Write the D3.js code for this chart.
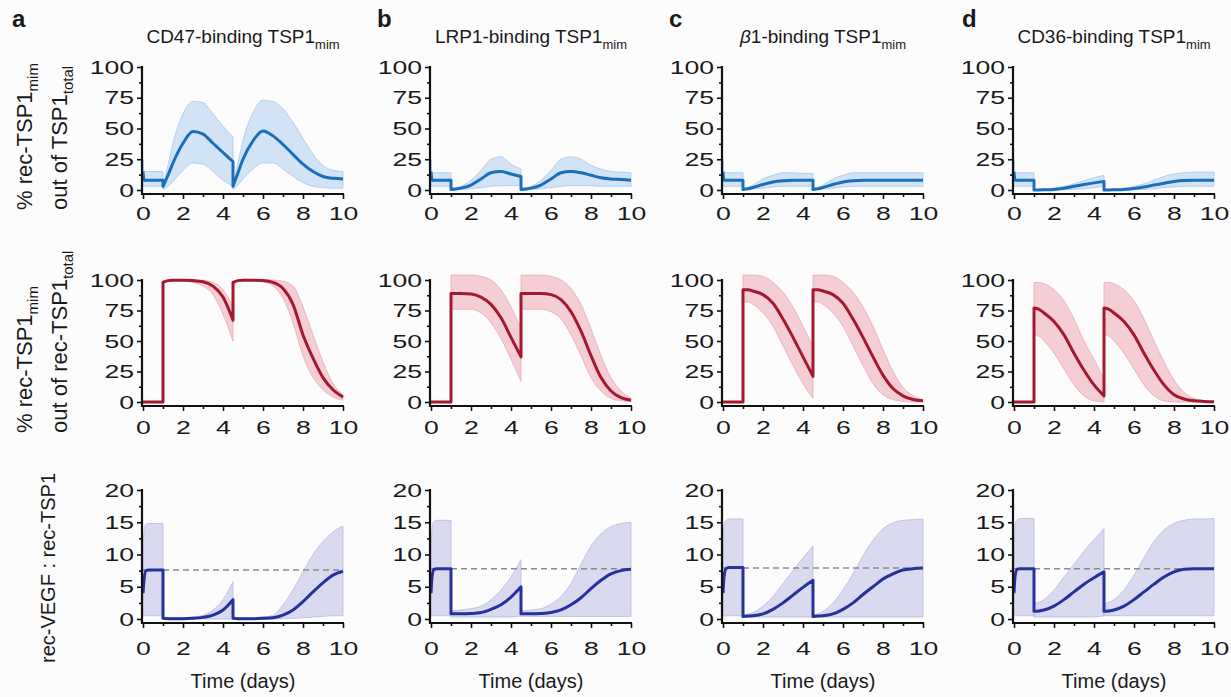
<!DOCTYPE html>
<html>
<head>
<meta charset="utf-8">
<script src="https://cdn.jsdelivr.net/npm/d3@7"></script>
<style>
  body { margin: 0; background: #fcfcfd; }
  text { font-family: "Liberation Sans", Arial, Helvetica, sans-serif; fill: #1a1a1a; }
</style>
</head>
<body>
<svg width="1231" height="697"></svg>
<script>
// time grid: the values at t=1 and t=4.5 appear twice (before / after each dose)
var times = [0, 0.05, 0.15, 0.3, 0.5, 0.75, 1,
  1, 1.25, 1.5, 2, 2.5, 3, 3.5, 4, 4.5,
  4.5, 4.75, 5, 5.5, 6, 6.5, 7, 7.5, 8, 8.5, 9, 9.5, 10];

var panelLetters = ["a", "b", "c", "d"];
var receptors = ["CD47", "LRP1", "β", "CD36"];
var xTicks = [0, 2, 4, 6, 8, 10];
var pctTicks = [0, 25, 50, 75, 100];
var ratioTicks = [0, 5, 10, 15, 20];

// row 1: % rec-TSP1mim out of TSP1total  (panels a..d)
var totMean = [
  [15, 8, 8, 8, 8, 8, 8, 3, 12, 22, 38, 47.5, 45.5, 38, 30.5, 23, 3, 14, 25, 40, 48, 44, 37, 29, 21, 15, 11, 9.5, 9],
  [15, 8, 8, 8, 8, 8, 8, 0.5, 0.8, 1.5, 4, 9, 14, 15, 13, 11, 0.5, 0.8, 1.5, 4, 9, 14, 15, 14, 12, 10, 9, 8.5, 8],
  [15, 8, 8, 8, 8, 8, 8, 0.5, 1, 2, 4.5, 6.5, 7.5, 8, 8, 8, 0.5, 1, 2, 4.5, 6.5, 7.5, 8, 8, 8, 8, 8, 8, 8],
  [15, 8, 8, 8, 8, 8, 8, 0, 0.05, 0.2, 0.5, 1.5, 3, 4.5, 5.8, 7, 0, 0.05, 0.2, 0.5, 1.2, 2.5, 4, 5.5, 7, 7.8, 8, 8, 8]
];
var totHi = [
  [25, 15, 15, 15, 15, 15, 15, 4, 20, 38, 62, 72, 71, 62, 52, 43, 4, 22, 40, 63, 73, 72, 66, 55, 42, 29, 20, 16, 15],
  [25, 14, 14, 14, 14, 14, 14, 1, 2, 3, 8, 16, 25, 27, 21, 17, 1, 2, 3, 8, 16, 25, 27, 25, 20, 17, 15, 14.5, 14],
  [25, 14, 14, 14, 14, 14, 14, 1, 2, 4, 9, 12, 14, 14, 13.5, 13.5, 1, 2, 4, 9, 12, 14, 14, 14, 14, 14, 14, 14, 14],
  [25, 14, 14, 14, 14, 14, 14, 0.5, 0.6, 0.8, 1.5, 3, 5, 7.5, 10, 12, 0.5, 0.6, 0.8, 1.5, 3, 5, 8, 11, 13, 14, 14.5, 14.5, 14.5]
];
var totLo = [
  [3, 3, 3, 3, 3, 3, 3, 0.5, 3, 7, 16, 22, 21, 15, 8, 3, 0.5, 4, 9, 17, 22, 22, 17, 11, 6, 3, 2, 1.5, 1.5],
  [3, 3, 3, 3, 3, 3, 3, 0, 0, 0.3, 1, 2, 3, 3.5, 3.5, 3.5, 0, 0, 0.3, 1, 2, 3, 3.5, 3.5, 3.5, 3, 3, 3, 3],
  [3, 3, 3, 3, 3, 3, 3, 0, 0.3, 0.8, 1.5, 2.5, 3, 3, 3, 3, 0, 0.3, 0.8, 1.5, 2.5, 3, 3, 3, 3, 3, 3, 3, 3],
  [3, 3, 3, 3, 3, 3, 3, 0, 0, 0, 0, 0.2, 0.5, 1, 2, 3, 0, 0, 0, 0, 0.2, 0.5, 1, 2, 2.5, 3, 3, 3, 3]
];

// row 2: % rec-TSP1mim out of rec-TSP1total
var recMean = [
  [0, 0, 0, 0, 0, 0, 0, 98, 99.5, 99.8, 99.8, 99.5, 98.5, 95, 86, 67, 98, 99.5, 99.8, 99.8, 99.5, 98, 93, 80, 55, 36, 20, 10, 4],
  [0, 0, 0, 0, 0, 0, 0, 89, 89, 89, 88.5, 86, 80, 69, 53, 37, 89, 89, 89, 89, 88, 84, 74, 58, 38, 20, 9, 3.5, 1.5],
  [0, 0, 0, 0, 0, 0, 0, 92, 92, 91, 88, 81, 68, 53, 37, 21, 92, 92, 91, 88, 81, 68, 53, 37, 22, 11, 5, 2, 1],
  [0, 0, 0, 0, 0, 0, 0, 77, 76, 73, 66, 55, 40, 26, 14, 5, 77, 76, 73, 66, 55, 40, 26, 14, 6, 2.5, 1, 0.5, 0.2]
];
var recHi = [
  [0, 0, 0, 0, 0, 0, 0, 99.5, 100, 100, 100, 100, 99.8, 98, 92, 78, 99, 100, 100, 100, 100, 100, 99, 95, 78, 55, 33, 15, 6],
  [0, 0, 0, 0, 0, 0, 0, 104, 104, 104, 104, 103, 100, 92, 78, 60, 104, 104, 104, 104, 103, 100, 93, 80, 60, 38, 20, 9, 3],
  [0, 0, 0, 0, 0, 0, 0, 104, 104, 104, 103, 98, 90, 78, 62, 45, 104, 104, 104, 103, 98, 90, 78, 62, 43, 25, 12, 5, 2],
  [0, 0, 0, 0, 0, 0, 0, 98, 98, 97, 92, 83, 68, 50, 35, 18, 98, 98, 97, 92, 83, 68, 50, 33, 18, 8, 3, 1, 0.5]
];
var recLo = [
  [0, 0, 0, 0, 0, 0, 0, 97, 99, 99.5, 99.3, 98, 95, 88, 72, 50, 95, 99, 99.5, 99.3, 98.5, 95, 85, 65, 38, 20, 10, 4, 1.5],
  [0, 0, 0, 0, 0, 0, 0, 76, 76, 76, 76, 73, 65, 52, 35, 17, 76, 76, 76, 76, 74, 68, 55, 38, 20, 9, 3, 1, 0.3],
  [0, 0, 0, 0, 0, 0, 0, 82, 82, 80, 73, 62, 46, 30, 15, 3, 82, 82, 80, 73, 62, 46, 30, 15, 6, 2, 0.5, 0, 0],
  [0, 0, 0, 0, 0, 0, 0, 55, 54, 50, 40, 27, 14, 5, 1, 0, 55, 54, 50, 40, 27, 14, 5, 1, 0, 0, 0, 0, 0]
];

// row 3: rec-VEGF : rec-TSP1
var ratioMean = [
  [4, 6, 7.5, 7.6, 7.6, 7.6, 7.6, 0.1, 0.05, 0.05, 0.05, 0.1, 0.25, 0.6, 1.4, 3, 0.1, 0.05, 0.05, 0.05, 0.1, 0.2, 0.6, 1.4, 2.7, 4.2, 5.6, 6.8, 7.4],
  [4, 6.5, 7.7, 7.8, 7.8, 7.8, 7.8, 0.8, 0.8, 0.8, 0.85, 1, 1.5, 2.2, 3.4, 5, 0.8, 0.8, 0.8, 0.85, 1, 1.4, 2.2, 3.3, 4.7, 6, 7, 7.5, 7.7],
  [4, 6.5, 7.8, 8, 8, 8, 8, 0.4, 0.45, 0.5, 0.8, 1.5, 2.5, 3.7, 4.9, 6, 0.4, 0.45, 0.5, 0.8, 1.5, 2.5, 3.8, 5, 6.2, 7, 7.6, 7.8, 7.9],
  [4, 6.5, 7.7, 7.8, 7.8, 7.8, 7.8, 1.2, 1.25, 1.4, 2, 3, 4.2, 5.4, 6.4, 7.3, 1.2, 1.25, 1.4, 2, 3, 4.2, 5.4, 6.5, 7.3, 7.7, 7.8, 7.8, 7.8]
];
var ratioHi = [
  [8, 13.5, 14.7, 14.8, 14.8, 14.8, 14.8, 0.2, 0.2, 0.2, 0.2, 0.3, 0.6, 1.4, 3, 5.8, 0.2, 0.2, 0.2, 0.2, 0.3, 0.6, 2.2, 4.5, 7.3, 10, 12, 13.5, 14.4],
  [8, 14, 15.1, 15.3, 15.3, 15.3, 15.3, 1.3, 1.3, 1.4, 1.6, 2, 3, 4.5, 6.5, 9.2, 1.3, 1.3, 1.4, 1.6, 2.3, 3.5, 5.5, 8.5, 11.3, 13.2, 14.3, 14.8, 15],
  [8, 14.5, 15.3, 15.5, 15.5, 15.5, 15.5, 0.6, 0.8, 1, 2, 3.5, 5.5, 7.5, 9.5, 11.3, 0.6, 0.8, 1.2, 2.5, 4.5, 7, 9.8, 12.2, 14, 14.9, 15.3, 15.4, 15.5],
  [8, 14.5, 15.4, 15.6, 15.6, 15.6, 15.6, 2.4, 2.6, 3, 4.5, 6.5, 8.5, 10.5, 12.3, 14, 2.4, 2.6, 3, 4.5, 6.8, 9.5, 12, 13.8, 14.8, 15.3, 15.5, 15.5, 15.6]
];
var ratioLo = [
  [0.5, 0.5, 0.5, 0.5, 0.5, 0.5, 0.5, 0, 0, 0, 0, 0, 0, 0, 0, 0, 0, 0, 0, 0, 0, 0, 0.05, 0.1, 0.2, 0.3, 0.4, 0.5, 0.5],
  [0.5, 0.5, 0.5, 0.5, 0.5, 0.5, 0.5, 0.3, 0.3, 0.3, 0.3, 0.3, 0.3, 0.3, 0.3, 0.5, 0.4, 0.4, 0.4, 0.4, 0.4, 0.4, 0.4, 0.4, 0.4, 0.4, 0.4, 0.4, 0.4],
  [0.5, 0.5, 0.5, 0.5, 0.5, 0.5, 0.5, 0.3, 0.3, 0.3, 0.3, 0.3, 0.3, 0.3, 0.3, 0.3, 0.3, 0.3, 0.3, 0.3, 0.3, 0.3, 0.3, 0.3, 0.3, 0.3, 0.3, 0.3, 0.3],
  [0.5, 0.5, 0.5, 0.5, 0.5, 0.5, 0.5, 0.3, 0.3, 0.3, 0.3, 0.3, 0.3, 0.3, 0.3, 0.5, 0.5, 0.5, 0.5, 0.5, 0.5, 0.5, 0.5, 0.5, 0.5, 0.5, 0.5, 0.5, 0.5]
];
// untreated steady-state ratio (grey dashed line)
var ratioRef = [7.6, 7.8, 7.9, 7.8];

var svg = d3.select("svg");
var panelLeft = [143, 431, 723, 1014];
var letterX = [12, 377, 669, 962];
var panelW = 200;

var rowDefs = [
  { mean: totMean, lo: totLo, hi: totHi, ticks: pctTicks, max: 100, top: 67, zero: 190, gap: 8,
    line: "#1a6fb8", band: "#cde0f4", edge: "#a8c8ec" },
  { mean: recMean, lo: recLo, hi: recHi, ticks: pctTicks, max: 100, top: 280, zero: 402, gap: 10,
    line: "#a3192f", band: "#f4c8d0", edge: "#eaa9b6" },
  { mean: ratioMean, lo: ratioLo, hi: ratioHi, ticks: ratioTicks, max: 20, top: 490, zero: 619, gap: 14,
    line: "#26319a", band: "#d5d5ed", edge: "#babae0", ref: ratioRef }
];

function midpoints(arr) {
  return d3.pairs(arr).map(function (p) { return (p[0] + p[1]) / 2; });
}

function styleTickText(sel, dx) {
  sel.selectAll("text")
    .style("font-size", "19px")
    .attr("fill", "#1a1a1a")
    .attr("transform", "scale(1.4,1)");
  if (dx !== undefined) sel.selectAll("text").attr("x", dx / 1.4);
}

rowDefs.forEach(function (row, r) {
  panelLeft.forEach(function (left, c) {
    var x = d3.scaleLinear().domain([0, 10]).range([left, left + panelW]);
    var y = d3.scaleLinear().domain([0, row.max]).range([row.zero, row.top]);
    var g = svg.append("g");

    var pts = times.map(function (t, i) {
      return { t: t, m: row.mean[c][i], lo: row.lo[c][i], hi: row.hi[c][i] };
    });
    // split at the dosing jumps
    var segs = [];
    pts.forEach(function (p, i) {
      if (i === 0 || p.t === pts[i - 1].t) segs.push([]);
      segs[segs.length - 1].push(p);
    });

    var area = d3.area().curve(d3.curveMonotoneX)
      .x(function (d) { return x(d.t); })
      .y0(function (d) { return y(d.lo); })
      .y1(function (d) { return y(d.hi); });
    var line = d3.line().curve(d3.curveMonotoneX)
      .x(function (d) { return x(d.t); })
      .y(function (d) { return y(d.m); });

    g.selectAll(".band").data(segs).enter().append("path")
      .attr("class", "band")
      .attr("d", area)
      .attr("fill", row.band)
      .attr("fill-opacity", 0.9)
      .attr("stroke", row.edge)
      .attr("stroke-width", 0.8);

    if (row.ref) {
      g.append("line")
        .attr("x1", x(0)).attr("x2", x(10))
        .attr("y1", y(row.ref[c])).attr("y2", y(row.ref[c]))
        .attr("stroke", "#8a8a8a")
        .attr("stroke-width", 1.6)
        .attr("stroke-dasharray", "6,4");
    }

    // mean curve, segments joined by vertical jumps
    var dStr = segs.map(function (s, k) {
      var p = line(s);
      return k ? "L" + p.slice(1) : p;
    }).join("");
    g.append("path")
      .attr("d", dStr)
      .attr("fill", "none")
      .attr("stroke", row.line)
      .attr("stroke-width", 3)
      .attr("stroke-linejoin", "round");

    // axes
    var axisY = row.zero + 4;
    var axisX = x(0) - 1;

    var yMinor = g.append("g").attr("transform", "translate(" + axisX + ",0)")
      .call(d3.axisLeft(y).tickValues(midpoints(row.ticks)).tickSize(3).tickSizeOuter(0).tickFormat(""));
    var yMajor = g.append("g").attr("transform", "translate(" + axisX + ",0)")
      .call(d3.axisLeft(y).tickValues(row.ticks).tickSize(5).tickSizeOuter(0).tickPadding(4));
    styleTickText(yMajor, -8);

    var xMinor = g.append("g").attr("transform", "translate(0," + axisY + ")")
      .call(d3.axisBottom(x).tickValues(midpoints(xTicks)).tickSize(3).tickSizeOuter(0).tickFormat(""));
    var xMajor = g.append("g").attr("transform", "translate(0," + axisY + ")")
      .call(d3.axisBottom(x).tickValues(xTicks).tickSize(5).tickSizeOuter(0).tickPadding(row.gap));
    styleTickText(xMajor);

    [yMinor, yMajor, xMinor, xMajor].forEach(function (a) {
      a.select(".domain").remove();
      a.selectAll("line").attr("stroke", "#111").attr("stroke-width", 1.6);
    });

    g.append("line")
      .attr("x1", axisX).attr("x2", axisX)
      .attr("y1", y(row.max) - 1).attr("y2", axisY + 1)
      .attr("stroke", "#111").attr("stroke-width", 2.2);
    g.append("line")
      .attr("x1", axisX - 1).attr("x2", x(10) + 1)
      .attr("y1", axisY).attr("y2", axisY)
      .attr("stroke", "#111").attr("stroke-width", 2.2);

    if (r === 0) {
      svg.append("text")
        .attr("x", letterX[c]).attr("y", 27)
        .style("font-size", "24px").style("font-weight", "bold")
        .text(panelLetters[c]);
      var title = svg.append("text")
        .attr("x", (x(0) + x(10)) / 2).attr("y", 43)
        .attr("text-anchor", "middle")
        .style("font-size", "19px");
      if (receptors[c] === "β") {
        title.append("tspan").style("font-style", "italic").text("β");
        title.append("tspan").text("1-binding TSP1");
      } else {
        title.append("tspan").text(receptors[c] + "-binding TSP1");
      }
      title.append("tspan").attr("dy", 6).style("font-size", "13px").text("mim");
    }
    if (r === 2) {
      svg.append("text")
        .attr("x", (x(0) + x(10)) / 2).attr("y", 688)
        .attr("text-anchor", "middle")
        .style("font-size", "20px")
        .text("Time (days)");
    }
  });
});

// y-axis titles
function yTitle(bx, by, main, sub, size) {
  var t = svg.append("text")
    .attr("transform", "translate(" + bx + "," + by + ") rotate(-90)")
    .style("font-size", size + "px")
    .text(main);
  if (sub) t.append("tspan").attr("dy", 6).style("font-size", (size - 7) + "px").text(sub);
}
yTitle(32, 210, "% rec-TSP1", "mim", 22);
yTitle(67, 210, "out of TSP1", "total", 22);
yTitle(32, 433, "% rec-TSP1", "mim", 22);
yTitle(67, 433, "out of rec-TSP1", "total", 22);
yTitle(55, 663, "rec-VEGF : rec-TSP1", null, 20);
</script>
</body>
</html>
